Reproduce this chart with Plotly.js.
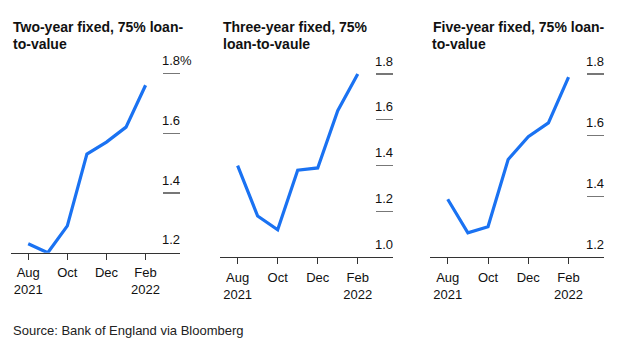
<!DOCTYPE html>
<html>
<head>
<meta charset="utf-8">
<script src="https://cdn.plot.ly/plotly-3.0.1.min.js"></script>
<style>html,body{margin:0;padding:0;background:#fff}#chart{width:629px;height:354px}</style>
</head>
<body>
<div id="chart"></div>
<script>
var months = ['Aug','Sep','Oct','Nov','Dec','Jan','Feb'];
var tickMonths = ['Aug','Oct','Dec','Feb'];
var tickMonthText = ['Aug<br>2021','Oct','Dec','Feb<br>2022'];

var twoYear = [1.23, 1.20, 1.29, 1.53, 1.57, 1.62, 1.76];
var threeYear = [1.40, 1.18, 1.12, 1.38, 1.39, 1.64, 1.80];
var fiveYear = [1.39, 1.28, 1.30, 1.52, 1.595, 1.64, 1.79];

var twoTicks = [1.2, 1.4, 1.6, 1.8];
var twoTickText = ['1.2','1.4','1.6','1.8%'];
var threeTicks = [1.0, 1.2, 1.4, 1.6, 1.8];
var threeTickText = ['1.0','1.2','1.4','1.6','1.8'];
var fiveTicks = [1.2, 1.4, 1.6, 1.8];
var fiveTickText = ['1.2','1.4','1.6','1.8'];

var titles = [
  ['Two-year fixed, 75% loan-', 'to-value'],
  ['Three-year fixed, 75%', 'loan-to-vaule'],
  ['Five-year fixed, 75% loan-', 'to-value']
];
var source = 'Source: Bank of England via Bloomberg';

var W = 629, H = 354;
var blue = '#1a72f2';
var font = 'Liberation Sans, Arial, Helvetica, sans-serif';

function px(x){ return x / W; }
function py(y){ return 1 - y / H; }

var traces = [
  {x: months, y: twoYear, xaxis: 'x', yaxis: 'y'},
  {x: months, y: threeYear, xaxis: 'x2', yaxis: 'y2'},
  {x: months, y: fiveYear, xaxis: 'x3', yaxis: 'y3'}
].map(function(t){
  t.type = 'scatter'; t.mode = 'lines';
  t.line = {color: blue, width: 3.2};
  t.cliponaxis = false;
  t.hoverinfo = 'skip';
  return t;
});

function xax(d0, d1, anchor){
  return {
    domain: [px(d0), px(d1)], anchor: anchor, type: 'category',
    categoryorder: 'array', categoryarray: months,
    range: [-0.88, 7.76],
    tickvals: tickMonths, ticktext: tickMonthText,
    showline: true, linecolor: '#333', linewidth: 1,
    ticks: 'outside', ticklen: 6, tickcolor: '#333', tickwidth: 1,
    ticklabelstandoff: 2,
    showgrid: false, zeroline: false,
    tickfont: {family: font, size: 13, color: '#111'},
    fixedrange: true
  };
}
function yax(top, bot, anchor, range, vals, text){
  return {
    domain: [py(bot), py(top)], anchor: anchor, side: 'right',
    range: range, tickvals: vals, ticktext: text,
    showline: false, showgrid: false, zeroline: false,
    ticks: 'inside', ticklen: 17, tickcolor: '#777', tickwidth: 1.2,
    ticklabelstandoff: -19, ticklabelshift: -13,
    tickfont: {family: font, size: 13, color: '#111'},
    fixedrange: true
  };
}

var layout = {
  width: W, height: H,
  margin: {l: 0, r: 0, t: 0, b: 0},
  paper_bgcolor: '#fff', plot_bgcolor: 'rgba(0,0,0,0)',
  showlegend: false,
  xaxis: xax(11, 180, 'y'),
  yaxis: yax(67.3, 252.8, 'x', [1.2, 1.82], twoTicks, twoTickText),
  xaxis2: xax(220, 393, 'y2'),
  yaxis2: yax(69.4, 257.3, 'x2', [1.0, 1.82], threeTicks, threeTickText),
  xaxis3: xax(430, 604, 'y3'),
  yaxis3: yax(67.9, 257.3, 'x3', [1.2, 1.82], fiveTicks, fiveTickText),
  annotations: []
};

var titleX = [11, 221, 430.5];
titles.forEach(function(lines, i){
  lines.forEach(function(txt, j){
    layout.annotations.push({
      text: txt, xref: 'paper', yref: 'paper',
      x: px(titleX[i]), y: py(j === 0 ? 27 : 44),
      xanchor: 'left', yanchor: 'middle', showarrow: false,
      font: {family: font, size: 14, color: '#111', weight: 700}
    });
  });
});
layout.annotations.push({
  text: source, xref: 'paper', yref: 'paper',
  x: px(11), y: py(330), xanchor: 'left', yanchor: 'middle', showarrow: false,
  font: {family: font, size: 13, color: '#222'}
});

Plotly.newPlot('chart', traces, layout, {staticPlot: true, displayModeBar: false});
</script>
</body>
</html>
